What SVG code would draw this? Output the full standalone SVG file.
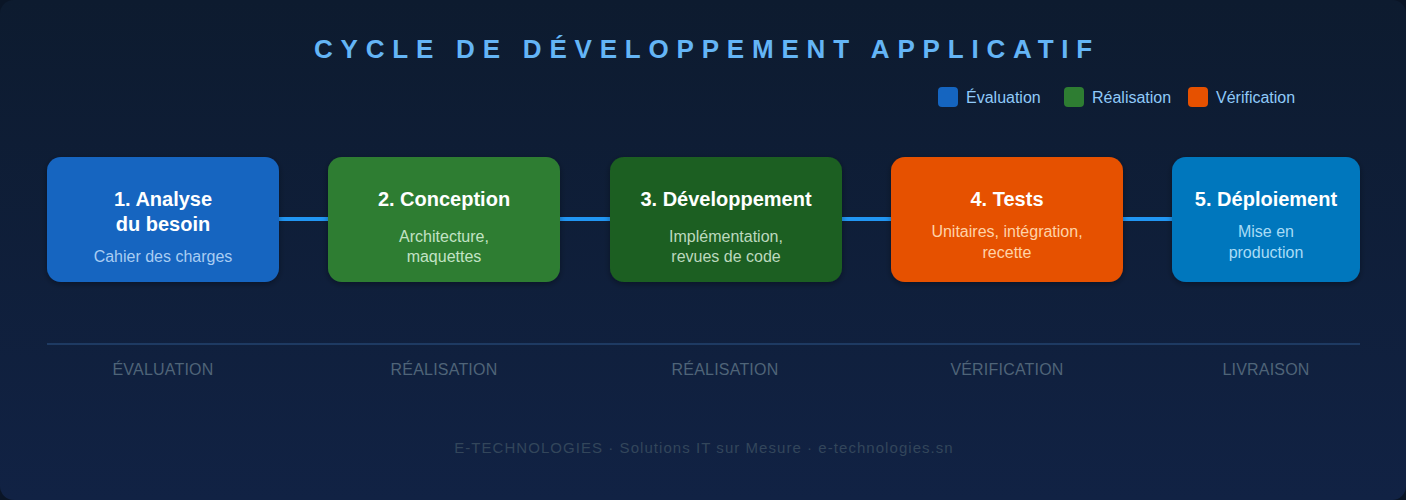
<svg xmlns="http://www.w3.org/2000/svg" width="1406" height="500" viewBox="0 0 1406 500">
<defs>
<linearGradient id="bg" x1="0" y1="0" x2="0" y2="1">
<stop offset="0" stop-color="#0d1b2f"/>
<stop offset="1" stop-color="#112244"/>
</linearGradient>
<filter id="sh" x="-10%" y="-10%" width="120%" height="130%">
<feDropShadow dx="0" dy="2" stdDeviation="3" flood-color="#000" flood-opacity="0.35"/>
</filter>
<style>
text{font-family:"Liberation Sans",Arial,sans-serif}
.title{font-size:26px;font-weight:bold;fill:#64b5f6;letter-spacing:7.8px}
.leg{font-size:16px;fill:#90caf9}
.nt{font-size:20px;font-weight:bold;fill:#ffffff;text-anchor:middle}
.ns{font-size:16px;text-anchor:middle}
.ph{font-size:16px;fill:#4f6478;text-anchor:middle;letter-spacing:0.2px}
.ft{font-size:15px;fill:#33465b;text-anchor:middle;letter-spacing:1.05px}
.box{filter:url(#sh)}
</style>
</defs>
<rect width="1406" height="500" fill="#0a1526"/>
<rect width="1406" height="500" rx="14" fill="url(#bg)"/>
<text class="title" x="707" y="58" text-anchor="middle">CYCLE DE DÉVELOPPEMENT APPLICATIF</text>
<g id="legend">
<rect x="938" y="87" width="20" height="20" rx="4" fill="#1565c0"/>
<text class="leg" x="966" y="103">Évaluation</text>
<rect x="1064" y="87" width="20" height="20" rx="4" fill="#2e7d32"/>
<text class="leg" x="1092" y="103">Réalisation</text>
<rect x="1188" y="87" width="20" height="20" rx="4" fill="#e65100"/>
<text class="leg" x="1216" y="103">Vérification</text>
</g>
<g id="connectors" stroke="#2196f3" stroke-width="4">
<line x1="279" y1="219" x2="328" y2="219"/>
<line x1="560" y1="219" x2="610" y2="219"/>
<line x1="842" y1="219" x2="891" y2="219"/>
<line x1="1123" y1="219" x2="1172" y2="219"/>
</g>
<g id="n1">
<rect class="box" x="47" y="157" width="232" height="125" rx="14" fill="#1565c0"/>
<text class="nt" x="163" y="206">1. Analyse</text>
<text class="nt" x="163" y="231">du besoin</text>
<text class="ns" x="163" y="262" fill="#a9cdf3">Cahier des charges</text>
</g>
<g id="n2">
<rect class="box" x="328" y="157" width="232" height="125" rx="14" fill="#2e7d32"/>
<text class="nt" x="444" y="206">2. Conception</text>
<text class="ns" x="444" y="242" fill="#c3e3c5">Architecture,</text>
<text class="ns" x="444" y="262" fill="#c3e3c5">maquettes</text>
</g>
<g id="n3">
<rect class="box" x="610" y="157" width="232" height="125" rx="14" fill="#1b5e20"/>
<text class="nt" x="726" y="206">3. Développement</text>
<text class="ns" x="726" y="242" fill="#bcd9be">Implémentation,</text>
<text class="ns" x="726" y="262" fill="#bcd9be">revues de code</text>
</g>
<g id="n4">
<rect class="box" x="891" y="157" width="232" height="125" rx="14" fill="#e65100"/>
<text class="nt" x="1007" y="206">4. Tests</text>
<text class="ns" x="1007" y="237" fill="#ffd3a8">Unitaires, intégration,</text>
<text class="ns" x="1007" y="258" fill="#ffd3a8">recette</text>
</g>
<g id="n5">
<rect class="box" x="1172" y="157" width="188" height="125" rx="14" fill="#0277bd"/>
<text class="nt" x="1266" y="206">5. Déploiement</text>
<text class="ns" x="1266" y="237" fill="#a9dcf6">Mise en</text>
<text class="ns" x="1266" y="258" fill="#a9dcf6">production</text>
</g>
<line x1="47" y1="344" x2="1360" y2="344" stroke="#1e3a62" stroke-width="2"/>
<g id="phases">
<text class="ph" x="163" y="375">ÉVALUATION</text>
<text class="ph" x="444" y="375">RÉALISATION</text>
<text class="ph" x="725" y="375">RÉALISATION</text>
<text class="ph" x="1007" y="375">VÉRIFICATION</text>
<text class="ph" x="1266" y="375">LIVRAISON</text>
</g>
<text class="ft" x="704" y="453">E-TECHNOLOGIES · Solutions IT sur Mesure · e-technologies.sn</text>
</svg>
